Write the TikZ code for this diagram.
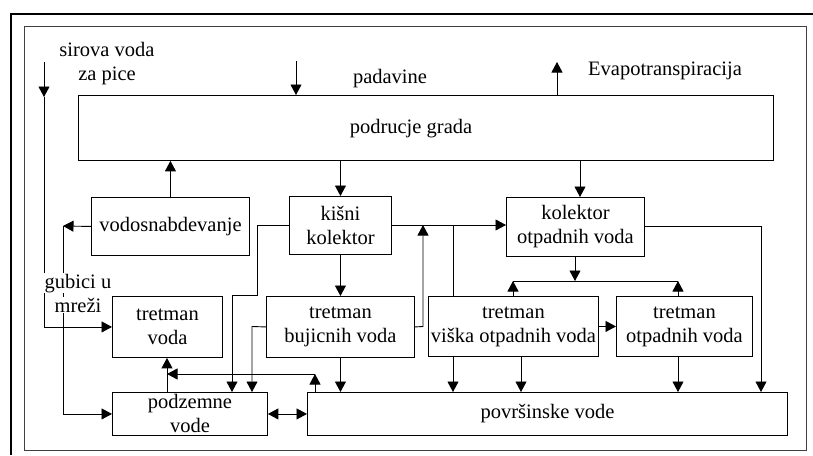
\documentclass[tikz,border=0pt]{standalone}
\usepackage{fontspec}
\setmainfont{Liberation Serif}
\usetikzlibrary{arrows.meta}
\begin{document}
\begin{tikzpicture}[x=1pt,y=-1pt,
  every node/.style={font=\fontsize{20.5}{24}\selectfont},
  box/.style={draw, line width=0.9pt, inner sep=0pt, anchor=north west, align=center},
  lbl/.style={inner sep=0pt, anchor=base},
  ln/.style={line width=0.9pt},
  arr/.style={line width=0.9pt, -{Triangle[width=11pt,length=10.5pt]}},
  darr/.style={line width=0.9pt, {Triangle[width=11pt,length=10.5pt]}-{Triangle[width=11pt,length=10.5pt]}}]
\useasboundingbox (0,0) rectangle (813,455);
% frames
\draw[line width=1.8pt] (11,455) -- (11,14) -- (813,14);
\draw[line width=1pt, black!75] (24,26) rectangle (806,450);
% boxes
\node[box, minimum width=695pt, minimum height=65pt] (grad) at (78,95) {};
\node[lbl] (gradt) at (411,133) {podrucje grada};
\node[box, minimum width=158pt, minimum height=58pt] (vodo) at (91,197) {vodosnabdevanje};
\node[box, minimum width=102pt, minimum height=58pt] (kisni) at (289,196) {kišni\\kolektor};
\node[box, minimum width=138pt, minimum height=59pt] (kol) at (506,197) {kolektor\\otpadnih voda};
\node[box, minimum width=110pt, minimum height=61pt] (tv) at (112,296) {tretman\\voda};
\node[box, minimum width=148pt, minimum height=61pt] (buj) at (266,296) {tretman\\bujicnih voda};
\node[box, minimum width=170pt, minimum height=60pt] (viska) at (428,296) {tretman\\viška otpadnih voda};
\node[box, minimum width=136pt, minimum height=60pt] (otp) at (616,296) {tretman\\otpadnih voda};
\node[box, minimum width=155pt, minimum height=43pt] (pod) at (112,392) {podzemne\\vode};
\node[box, minimum width=480pt, minimum height=43pt] (pov) at (307,392) {površinske vode};
% free labels
\node[lbl] (sir1) at (107,56) {sirova voda};
\node[lbl] (sir2) at (107,80) {za pice};
\node[lbl] (pad) at (390,83) {padavine};
\node[lbl] (evap) at (665,75) {Evapotranspiracija};
% coordinates
\coordinate (s0) at (44,62);
\coordinate (s1) at (44,97);
\coordinate (p0) at (296,61);
\coordinate (e0) at (557,62);
\coordinate (g0) at (63,226);
\coordinate (k1) at (580,0);
\coordinate (a1) at (257,225);
\coordinate (a2) at (257,295);
\coordinate (a3) at (232,295);
\coordinate (b1) at (252,326.5);
\coordinate (c1) at (423,326.5);
\coordinate (c2) at (423,225);
\coordinate (d1) at (453,225);
\coordinate (d2) at (521,0);
\coordinate (f1) at (761,226.5);
\coordinate (h0) at (575,281);
\coordinate (h1) at (513,281);
\coordinate (h2) at (678,281);
\coordinate (t1) at (167,0);
\coordinate (t2) at (167,374);
\coordinate (t3) at (315,374);
% connectors
\draw[arr] (s0) -- (s1);
\draw[arr] (s1) |- (tv.west);
\draw[arr] (p0) -- (p0 |- grad.north);
\draw[arr] (grad.north -| e0) -- (e0);
\draw[arr] (vodo.north) -- (vodo.north |- grad.south);
\draw[arr] (vodo.west) -- (g0);
\draw[arr] (g0) |- (pod.west);
\draw[arr] (grad.south -| kisni.north) -- (kisni.north);
\draw[arr] (grad.south -| k1) -- (kol.north -| k1);
\draw[arr] (kisni.west |- a1) -- (a1) -- (a2) -- (a3) -- (a3 |- pod.north);
\draw[arr] (kisni.south) -- (buj.north);
\draw[arr] (buj.south) -- (buj.south |- pov.north);
\draw[arr] (buj.west) -- (b1) -- (b1 |- pod.north);
\draw[arr] (kisni.east |- a1) -- (kol.west |- a1);
\draw[arr] (buj.east) -- (c1) -- (c2);
\draw[ln] (d1) -- (d1 |- viska.north);
\draw[arr] (viska.south -| d1) -- (pov.north -| d1);
\draw[arr] (viska.south -| d2) -- (pov.north -| d2);
\draw[arr] (kol.east |- f1) -- (f1) -- (f1 |- pov.north);
\draw[arr] (kol.south -| h0) -- (h0);
\draw[ln] (h1) -- (h2);
\draw[arr] (viska.north -| h1) -- (h1);
\draw[arr] (otp.north -| h2) -- (h2);
\draw[arr] (viska.east) -- (otp.west);
\draw[arr] (otp.south -| h2) -- (pov.north -| h2);
\draw[arr] (pod.north -| t1) -- (tv.south -| t1);
\draw[arr] (pov.north -| t3) -- (t3);
\draw[arr] (t3) -- (t2);
\draw[darr] (pod.east) -- (pov.west);
% labels hiding lines
\node[lbl, fill=white, inner sep=1pt] (gub1) at (78,288) {gubici u};
\node[lbl, fill=white, inner sep=1pt] (gub2) at (78,312) {mreži};
\end{tikzpicture}
\end{document}
